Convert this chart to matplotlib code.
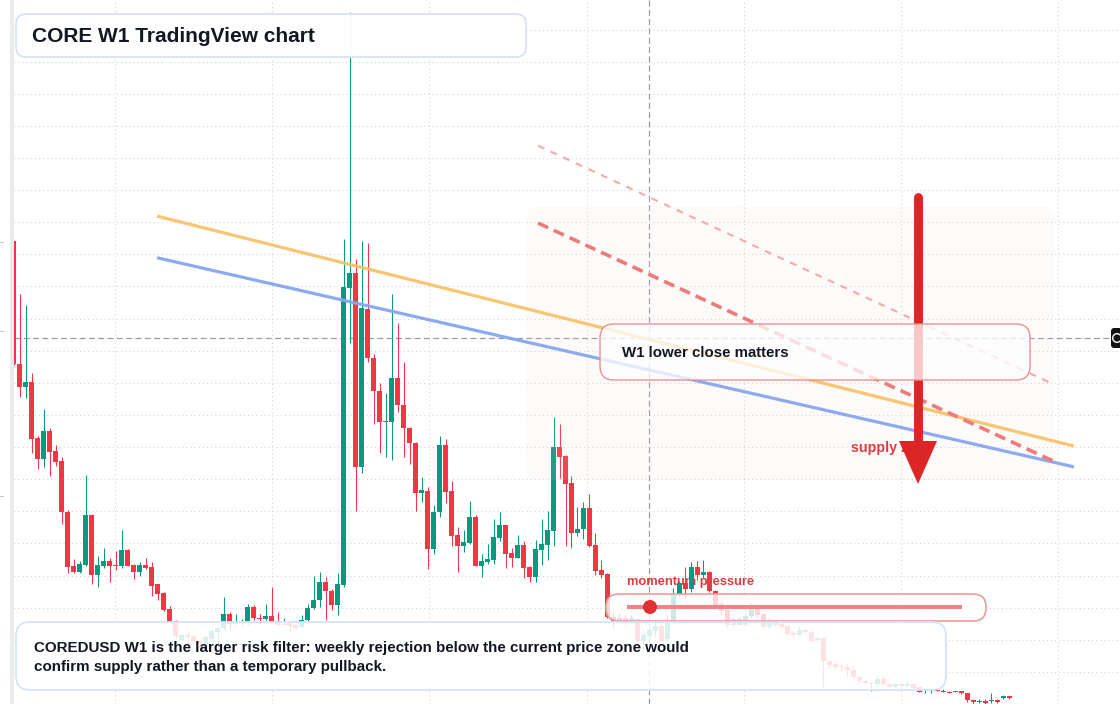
import numpy as np
import matplotlib
matplotlib.use("Agg")
import matplotlib.pyplot as plt
from matplotlib.patches import FancyBboxPatch, Polygon, Rectangle, Circle
from matplotlib.transforms import Affine2D

plt.rcParams['font.family'] = ['Liberation Sans', 'DejaVu Sans']
plt.rcParams['lines.scale_dashes'] = False

# ---------------- data (weekly candles, price in cents of an arbitrary scale) -------------
opens = [477, 353, 330, 335, 278, 257, 285, 265, 255, 203, 149, 143, 150, 200, 140, 149, 154, 150, 149, 165,
         150, 143, 150, 148, 131, 122, 106, 94, 74, 79, 78, 73, 70, 75, 82, 86, 101, 91, 92, 92,
         108, 97, 96, 99, 94, 90, 92, 89, 87, 95, 107, 115, 133, 124, 110, 130, 429, 445, 249, 408,
         359, 326, 294, 294, 339, 311, 288, 273, 223, 225, 166, 203, 271, 225, 180, 169, 172, 198, 149, 153,
         155, 177, 190, 162, 157, 170, 148, 138, 165, 170, 184, 269, 260, 233, 182, 186, 208, 170, 145, 141,
         98, 94, 97, 93, 96, 73, 78, 83, 88, 75, 93, 120, 132, 126, 148, 140, 143, 124, 111, 105,
         89, 96, 90, 99, 108, 101, 87, 94, 91, 88, 81, 79, 84, 82, 74, 76, 53, 50, 48, 47,
         44, 37, 33, 31, 30, 35, 30, 27, 30, 28, 30, 27, 23, 23, 24, 23, 22, 22, 23, 21,
         14, 12, 13, 13, 14, 16, 18]
highs = [477, 423, 412, 344, 280, 307, 288, 271, 259, 206, 156, 154, 241, 201, 159, 167, 157, 164, 185, 166,
         151, 153, 157, 153, 131, 123, 109, 95, 80, 83, 79, 75, 79, 85, 90, 118, 103, 101, 96, 111,
         110, 101, 111, 128, 103, 97, 93, 91, 100, 111, 139, 143, 138, 126, 142, 479, 708, 459, 477, 475,
         363, 334, 324, 423, 394, 355, 289, 274, 239, 229, 211, 280, 277, 235, 188, 185, 215, 200, 161, 171,
         196, 203, 190, 167, 180, 174, 149, 175, 196, 204, 299, 292, 261, 240, 209, 214, 222, 182, 155, 142,
         103, 102, 100, 100, 97, 84, 92, 95, 92, 100, 127, 134, 148, 153, 154, 155, 144, 125, 114, 106,
         98, 98, 102, 112, 111, 102, 97, 95, 92, 89, 83, 88, 85, 84, 78, 77, 54, 52, 50, 50,
         49, 38, 34, 32, 39, 38, 31, 30, 31, 34, 30, 27, 25, 25, 24, 25, 23, 23, 23, 21,
         15, 15, 15, 21, 15, 19, 18]
lows = [352, 319, 318, 263, 247, 249, 240, 250, 191, 142, 142, 142, 149, 131, 128, 147, 133, 145, 147, 149,
        136, 139, 146, 119, 115, 104, 92, 75, 72, 75, 71, 65, 68, 73, 60, 84, 84, 89, 88, 90,
        95, 91, 95, 93, 88, 89, 83, 85, 86, 94, 106, 108, 95, 105, 100, 128, 374, 205, 243, 355,
        292, 263, 259, 256, 304, 259, 252, 205, 214, 146, 161, 198, 213, 169, 143, 163, 171, 149, 138, 151,
        151, 174, 147, 148, 157, 137, 133, 133, 150, 155, 169, 238, 169, 167, 179, 176, 168, 140, 137, 97,
        85, 93, 90, 92, 70, 65, 65, 77, 72, 72, 92, 118, 117, 123, 135, 137, 123, 107, 100, 86,
        88, 89, 89, 97, 97, 85, 86, 87, 85, 79, 77, 78, 80, 72, 73, 27, 46, 45, 43, 38,
        36, 31, 30, 23, 28, 29, 27, 27, 28, 28, 26, 22, 21, 21, 23, 22, 21, 22, 20, 12,
        10, 11, 10, 11, 11, 15, 15]
closes = [353, 330, 335, 277, 257, 285, 264, 254, 203, 148, 143, 151, 200, 140, 150, 154, 149, 149, 165, 149,
          143, 150, 147, 129, 121, 105, 93, 78, 79, 77, 73, 70, 77, 83, 86, 101, 91, 93, 93, 108,
          97, 96, 99, 93, 89, 91, 88, 86, 95, 107, 115, 133, 124, 110, 131, 430, 445, 249, 409, 359,
          326, 294, 295, 339, 311, 288, 273, 223, 226, 166, 203, 271, 224, 179, 169, 173, 198, 149, 154, 156,
          178, 190, 161, 157, 170, 147, 138, 166, 171, 185, 269, 259, 232, 182, 186, 208, 169, 144, 140, 98,
          94, 97, 93, 97, 73, 79, 84, 88, 73, 94, 120, 132, 126, 148, 140, 143, 124, 109, 104, 89,
          96, 90, 99, 108, 100, 87, 94, 89, 87, 80, 79, 84, 82, 73, 76, 53, 49, 47, 47, 44,
          37, 33, 31, 30, 35, 30, 27, 30, 28, 30, 26, 22, 24, 24, 23, 22, 21, 23, 21, 14,
          12, 13, 11, 14, 12, 18, 16]

title_text = "CORE W1 TradingView chart"
note_text = "W1 lower close matters"
supply_label = "supply zone"
momentum_label = "momentum pressure"
bottom_text = ("COREDUSD W1 is the larger risk filter: weekly rejection below the current price zone would\n"
               "confirm supply rather than a temporary pullback.")

# ---------------- figure -------------
W, H = 1120, 704
fig = plt.figure(figsize=(W / 100, H / 100), dpi=100)
fig.patch.set_facecolor('white')
ax = fig.add_axes([14 / W, 0, (W - 14) / W, 1])
ax.set_xlim(0.0833, 184.4167)
ax.set_ylim(16, 720)
ax.set_facecolor('white')
for s in ax.spines.values():
    s.set_visible(False)

# grid
ax.set_xticks(16.92 + 26.2 * np.arange(7))
ax.set_yticks(9.8 + 32.4 * np.arange(22))
ax.tick_params(length=0, labelbottom=False, labelleft=False)
ax.set_axisbelow(True)
ax.grid(True, color='#d2d2d2', linewidth=0.75, linestyle=(0, (0.75, 2.2)))

pix = Affine2D().scale(1 / W, -1 / H).translate(0, 1) + fig.transFigure

# left strip and small marks
fig.add_artist(Rectangle((10 / W, 0), 4 / W, 1, transform=fig.transFigure,
                         facecolor='#ebebeb', edgecolor='none'))
for yy in (242, 331, 496):
    fig.add_artist(plt.Line2D([0, 3 / W], [1 - yy / H] * 2, transform=fig.transFigure,
                              color='#c8c8c8', lw=0.8))

# crosshair
ax.plot([14, 1111], [338, 338], transform=pix, color='#9a9ca3', lw=0.9,
        linestyle=(0, (4.3, 2.4)), zorder=1.5, clip_on=False)
ax.plot([649, 649], [0, 704], transform=pix, color='#9a9ca3', lw=0.9,
        linestyle=(0, (4.3, 2.4)), zorder=1.5, clip_on=False)

# momentum text (drawn under candles)
ax.text(627, 582, momentum_label, transform=pix, color='#e03a3e', fontsize=9.3,
        fontweight='bold', va='center', ha='left', zorder=2.5)

# candles
o = np.array(opens, float)
h = np.array(highs, float)
l = np.array(lows, float)
c = np.array(closes, float)
idx = np.arange(len(o))
up = c >= o
cols = np.where(up, '#089981', '#f23645')
ax.vlines(idx, l, h, colors=cols, linewidth=0.75, zorder=3)
body_lo = np.minimum(o, c)
body_h = np.maximum(np.abs(c - o), 1.0)
ax.bar(idx, body_h, bottom=body_lo, width=0.83, color=cols, linewidth=0, zorder=3.1)

# faint zone
ax.add_patch(FancyBboxPatch((526, 206), 528, 274, boxstyle="round,pad=0,rounding_size=14",
                            transform=pix, facecolor='#f3d9c9', alpha=0.1, edgecolor='none',
                            zorder=3.5, clip_on=False))

# trend lines (index, price)
ax.plot([23.92, 176.75], [502, 270], color='#f9c26a', lw=2.3, alpha=0.95, zorder=4,
        solid_capstyle='butt')
ax.plot([23.92, 176.75], [460, 249], color='#87a6f0', lw=2.3, alpha=0.95, zorder=4,
        solid_capstyle='butt')
ax.plot([87.42, 173.25], [495, 255], color='#ee7b7b', lw=2.6, linestyle=(0, (8, 4.5)), zorder=4)
ax.plot([87.42, 172.75], [573, 334], color='#f5a9a9', lw=1.5, linestyle=(0, (5, 5)), zorder=4)

# supply label (under arrow)
ax.text(851, 448, supply_label, transform=pix, color='#e03a3e', fontsize=10.3,
        fontweight='bold', va='center', ha='left', zorder=4.8)

# arrow
ax.plot([918, 918], [197, 442], transform=pix, color='#dc2626', lw=6.4,
        solid_capstyle='round', zorder=5, clip_on=False)
ax.add_patch(Polygon([(899, 441), (937, 441), (918, 484)], closed=True, transform=pix,
                     facecolor='#dc2626', edgecolor='none', zorder=5, clip_on=False))

# note box
ax.add_patch(FancyBboxPatch((600, 324), 430, 56, boxstyle="round,pad=0,rounding_size=14",
                            transform=pix, facecolor=(1, 1, 1, 0.75), edgecolor='#ec8f93',
                            linewidth=1.0, zorder=6, clip_on=False))
ax.text(622, 353, note_text, transform=pix, color='#131722', fontsize=10.8,
        fontweight='bold', va='center', ha='left', zorder=7)

# momentum box
ax.add_patch(FancyBboxPatch((606, 594), 380, 27, boxstyle="round,pad=0,rounding_size=13",
                            transform=pix, facecolor=(1, 1, 1, 0.8), edgecolor='#ef9b9b',
                            linewidth=1.2, zorder=6, clip_on=False))
ax.plot([627, 962], [607, 607], transform=pix, color='#ec8585', lw=2.9, zorder=7,
        solid_capstyle='butt', clip_on=False)
ax.add_patch(Circle((650, 607), 7, transform=pix, facecolor='#e0302f', edgecolor='none',
                    zorder=7.5, clip_on=False))

# bottom box
ax.add_patch(FancyBboxPatch((16, 622), 930, 68, boxstyle="round,pad=0,rounding_size=14",
                            transform=pix, facecolor=(1, 1, 1, 0.86), edgecolor='#d6e3f8',
                            linewidth=1.3, zorder=6, clip_on=False))
ax.text(34, 657.5, bottom_text, transform=pix, color='#131722', fontsize=10.9,
        fontweight='bold', va='center', ha='left', zorder=7, linespacing=1.42)

# title box
ax.add_patch(FancyBboxPatch((16, 14), 510, 43, boxstyle="round,pad=0,rounding_size=10",
                            transform=pix, facecolor=(1, 1, 1, 0.95), edgecolor='#d6e3f8',
                            linewidth=1.3, zorder=6, clip_on=False))
ax.text(32, 36, title_text, transform=pix, color='#131722', fontsize=15,
        fontweight='bold', va='center', ha='left', zorder=7)

# right price-scale label
ax.add_patch(FancyBboxPatch((1111, 328), 14, 20, boxstyle="round,pad=0,rounding_size=3",
                            transform=pix, facecolor='#131313', edgecolor='none', zorder=8,
                            clip_on=False))
ax.add_patch(Circle((1117, 338), 4.3, transform=pix, facecolor='none', edgecolor='white',
                    linewidth=1.0, zorder=9, clip_on=False))

fig.savefig('out.png', dpi=100, facecolor='white')
